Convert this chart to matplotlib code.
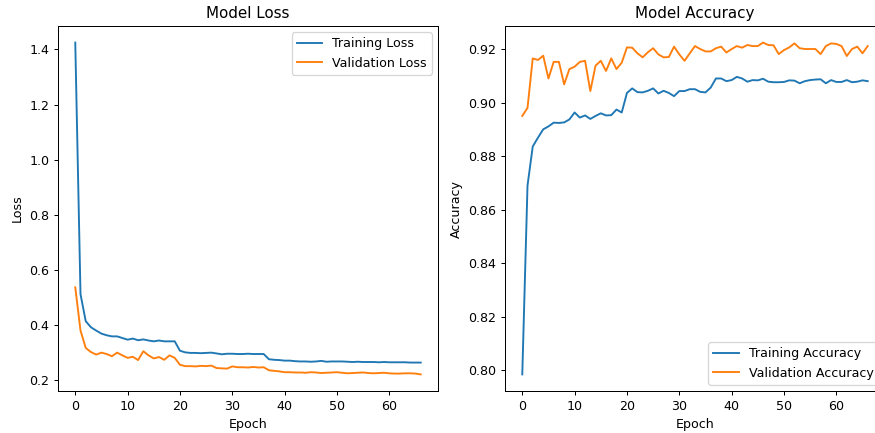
import matplotlib
matplotlib.use("Agg")
import matplotlib.pyplot as plt

train_loss = [
    1.425, 0.512, 0.414, 0.392, 0.380, 0.369, 0.363, 0.359, 0.359, 0.353,
    0.347, 0.351, 0.345, 0.348, 0.344, 0.341, 0.344, 0.341, 0.341, 0.341,
    0.307, 0.301, 0.299, 0.299, 0.298, 0.299, 0.300, 0.297, 0.294, 0.296,
    0.296, 0.295, 0.295, 0.296, 0.295, 0.295, 0.295, 0.276, 0.274, 0.273,
    0.271, 0.271, 0.269, 0.268, 0.268, 0.267, 0.268, 0.270, 0.267, 0.268,
    0.268, 0.268, 0.267, 0.266, 0.267, 0.266, 0.266, 0.266, 0.265, 0.266,
    0.265, 0.265, 0.265, 0.265, 0.264, 0.264, 0.264]

val_loss = [
    0.537, 0.380, 0.317, 0.302, 0.293, 0.300, 0.295, 0.287, 0.300, 0.290,
    0.281, 0.285, 0.273, 0.305, 0.290, 0.279, 0.284, 0.274, 0.290, 0.281,
    0.256, 0.251, 0.251, 0.250, 0.252, 0.251, 0.253, 0.244, 0.243, 0.242,
    0.250, 0.247, 0.247, 0.246, 0.248, 0.246, 0.247, 0.236, 0.234, 0.232,
    0.229, 0.229, 0.228, 0.228, 0.227, 0.229, 0.228, 0.226, 0.227, 0.228,
    0.229, 0.227, 0.225, 0.226, 0.227, 0.228, 0.226, 0.225, 0.226, 0.227,
    0.225, 0.224, 0.224, 0.225, 0.225, 0.224, 0.221]

train_acc = [
    0.7985, 0.8690, 0.8836, 0.8869, 0.8900, 0.8911, 0.8925, 0.8924, 0.8926, 0.8937,
    0.8963, 0.8944, 0.8952, 0.8939, 0.8950, 0.8960, 0.8952, 0.8953, 0.8974, 0.8963,
    0.9036, 0.9053, 0.9039, 0.9038, 0.9044, 0.9053, 0.9034, 0.9044, 0.9036, 0.9024,
    0.9043, 0.9043, 0.9050, 0.9050, 0.9040, 0.9038, 0.9056, 0.9090, 0.9090, 0.9080,
    0.9084, 0.9096, 0.9090, 0.9078, 0.9084, 0.9083, 0.9089, 0.9078, 0.9076, 0.9076,
    0.9077, 0.9083, 0.9082, 0.9072, 0.9080, 0.9084, 0.9086, 0.9087, 0.9072, 0.9084,
    0.9077, 0.9077, 0.9084, 0.9076, 0.9078, 0.9083, 0.9080]

val_acc = [
    0.8950, 0.8980, 0.9165, 0.9159, 0.9175, 0.9090, 0.9152, 0.9152, 0.9068, 0.9125,
    0.9134, 0.9152, 0.9156, 0.9043, 0.9138, 0.9156, 0.9118, 0.9165, 0.9125, 0.9149,
    0.9206, 0.9205, 0.9184, 0.9169, 0.9188, 0.9203, 0.9180, 0.9169, 0.9170, 0.9209,
    0.9180, 0.9156, 0.9184, 0.9211, 0.9200, 0.9191, 0.9191, 0.9203, 0.9209, 0.9187,
    0.9200, 0.9211, 0.9205, 0.9215, 0.9211, 0.9211, 0.9224, 0.9215, 0.9214, 0.9181,
    0.9196, 0.9206, 0.9221, 0.9203, 0.9200, 0.9200, 0.9200, 0.9181, 0.9211, 0.9221,
    0.9219, 0.9211, 0.9174, 0.9200, 0.9209, 0.9184, 0.9211]

epochs = list(range(len(train_loss)))

DPI = 91
W, H = 875, 433
fig = plt.figure(figsize=(W / DPI, H / DPI), dpi=DPI)
ax1 = fig.add_axes([58 / W, 1 - 391 / H, 380 / W, 365 / H])
ax2 = fig.add_axes([505 / W, 1 - 391 / H, 380 / W, 365 / H])

ax1.plot(epochs, train_loss, label="Training Loss")
ax1.plot(epochs, val_loss, label="Validation Loss")
ax1.set_title("Model Loss")
ax1.set_xlabel("Epoch")
ax1.set_ylabel("Loss")
ax1.legend(loc="upper right")

ax2.plot(epochs, train_acc, label="Training Accuracy")
ax2.plot(epochs, val_acc, label="Validation Accuracy")
ax2.set_title("Model Accuracy")
ax2.set_xlabel("Epoch")
ax2.set_ylabel("Accuracy")
ax2.legend(loc="lower right")

fig.savefig("out.png", dpi=DPI)
